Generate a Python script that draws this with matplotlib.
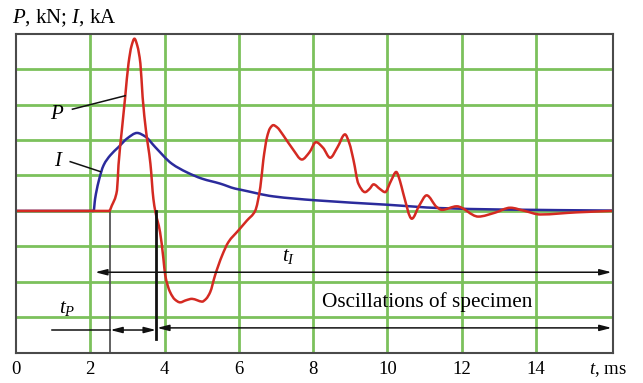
import matplotlib
matplotlib.use("Agg")
import matplotlib.pyplot as plt
from matplotlib.path import Path
from matplotlib.patches import PathPatch

plt.rcParams['font.family'] = ['Liberation Serif', 'DejaVu Serif']
plt.rcParams['mathtext.fontset'] = 'custom'
plt.rcParams['mathtext.rm'] = 'Liberation Serif'
plt.rcParams['mathtext.it'] = 'Liberation Serif:italic'

# ---- data (t in ms, values in grid units) ----
t_P = [0.0, 2.0, 2.51, 2.58, 2.72, 2.76, 2.85, 2.94, 3.03, 3.11, 3.19, 3.27, 3.35, 3.41,
       3.50, 3.62, 3.70, 3.75, 3.88, 3.97, 4.02, 4.15, 4.28, 4.42, 4.58, 4.74, 4.88,
       5.01, 5.12, 5.23, 5.36, 5.55, 5.72, 5.99, 6.22, 6.44, 6.58, 6.66, 6.76, 6.84,
       6.93, 7.03, 7.20, 7.45, 7.70, 7.90, 8.08, 8.27, 8.46, 8.66, 8.86, 8.98, 9.09,
       9.22, 9.40, 9.52, 9.63, 9.80, 9.94, 10.10, 10.24, 10.34, 10.43, 10.66, 10.86,
       11.06, 11.33, 11.47, 11.87, 12.45, 12.90, 13.31, 13.70, 14.12, 15.10, 16.07]
P = [0.0, 0.0, 0.0, 0.15, 0.58, 1.29, 2.27, 3.21, 4.16, 4.65, 4.86, 4.65, 4.16, 3.21,
     2.27, 1.33, 0.34, 0.0, -0.60, -1.35, -1.82, -2.29, -2.50, -2.58, -2.52, -2.48, -2.52,
     -2.56, -2.48, -2.29, -1.82, -1.26, -0.88, -0.55, -0.27, 0.0, 0.67, 1.43, 2.08, 2.33,
     2.42, 2.36, 2.13, 1.75, 1.45, 1.65, 1.94, 1.78, 1.50, 1.80, 2.16, 1.90, 1.43,
     0.77, 0.53, 0.62, 0.75, 0.62, 0.53, 0.85, 1.10, 0.85, 0.49, -0.22, 0.15,
     0.44, 0.11, 0.03, 0.13, -0.16, -0.05, 0.09, 0.0, -0.10, -0.04, 0.0]

t_I = [0.0, 2.09, 2.13, 2.22, 2.36, 2.54, 2.76, 3.00, 3.26, 3.48, 3.75, 4.20, 4.60,
       5.01, 5.50, 5.90, 6.04, 6.93, 8.06, 9.99, 11.42, 13.04, 16.07]
I = [0.0, 0.0, 0.34, 0.81, 1.29, 1.57, 1.80, 2.05, 2.20, 2.10, 1.80, 1.33, 1.09,
     0.91, 0.77, 0.63, 0.60, 0.41, 0.30, 0.175, 0.08, 0.04, 0.01]

x_ticks = [0, 2, 4, 6, 8, 10, 12, 14]
y_grid = [-3, -2, -1, 0, 1, 2, 3, 4]

# annotation times
tP_start, tP_end = 2.54, 3.77
tI_start, t_end = 2.13, 16.04


def smooth_path(xs, ys):
    """Bezier path through the data points (monotone cubic tangents)."""
    n = len(xs)
    d = [(ys[i + 1] - ys[i]) / (xs[i + 1] - xs[i]) for i in range(n - 1)]
    m = [0.0] * n
    m[0], m[-1] = d[0], d[-1]
    for i in range(1, n - 1):
        if d[i - 1] * d[i] <= 0:
            m[i] = 0.0
        else:
            h0 = xs[i] - xs[i - 1]
            h1 = xs[i + 1] - xs[i]
            w1, w2 = 2 * h1 + h0, h1 + 2 * h0
            m[i] = (w1 + w2) / (w1 / d[i - 1] + w2 / d[i])
    verts = [(xs[0], ys[0])]
    codes = [Path.MOVETO]
    for i in range(n - 1):
        h = xs[i + 1] - xs[i]
        verts += [(xs[i] + h / 3, ys[i] + m[i] * h / 3),
                  (xs[i + 1] - h / 3, ys[i + 1] - m[i + 1] * h / 3),
                  (xs[i + 1], ys[i + 1])]
        codes += [Path.CURVE4] * 3
    return Path(verts, codes)


fig = plt.figure(figsize=(6.43, 3.83), dpi=100)
ax = fig.add_axes([16/643, 1-352.7/383, (612.7-16)/643, (352.7-33.7)/383])
ax.set_xlim(0, 16.07)
ax.set_ylim(-4, 5)

green = '#7cc15c'
for xv in x_ticks[1:]:
    ax.axvline(xv, color=green, lw=2.0, zorder=1)
for yv in y_grid:
    ax.axhline(yv, color=green, lw=2.0, zorder=1)

ax.add_patch(PathPatch(smooth_path(t_I, I), facecolor='none', edgecolor='#2b2b9c',
                       lw=1.8, zorder=4, capstyle='round', joinstyle='round'))
ax.add_patch(PathPatch(smooth_path(t_P, P), facecolor='none', edgecolor='#d42a22',
                       lw=1.8, zorder=5, capstyle='round', joinstyle='round'))

# vertical marker lines
ax.plot([tP_start, tP_start], [0, -4], color='#555555', lw=1.3, zorder=3)
ax.plot([tP_end, tP_end], [0, -3.6], color='#111111', lw=2.0, zorder=6)

aprops = dict(arrowstyle='<|-|>,head_length=0.7,head_width=0.18', color='#111111',
              lw=1.1, shrinkA=0, shrinkB=0)
ax.annotate('', xy=(tI_start, -1.73), xytext=(t_end, -1.73), arrowprops=aprops, zorder=6)
ax.annotate('', xy=(tP_start, -3.36), xytext=(tP_end, -3.36), arrowprops=aprops, zorder=6)
ax.annotate('', xy=(tP_end + 0.03, -3.30), xytext=(t_end, -3.30), arrowprops=aprops, zorder=6)
ax.plot([0.97, tP_start], [-3.36, -3.36], color='#111111', lw=1.1, zorder=6)

# labels with leader lines
ax.plot([1.52, 2.94], [2.87, 3.25], color='#111111', lw=1.1, zorder=6)
ax.text(1.1, 2.71, r'$P$', fontsize=15, ha='center', va='center', zorder=7)
ax.plot([1.46, 2.27], [1.39, 1.11], color='#111111', lw=1.1, zorder=6)
ax.text(1.15, 1.39, r'$I$', fontsize=15, ha='center', va='center', zorder=7)

ax.text(7.33, -1.3, r'$t_I$', fontsize=15, ha='center', va='center', zorder=7)
ax.text(1.37, -2.75, r'$t_P$', fontsize=15, ha='center', va='center', zorder=7)
ax.text(11.08, -2.56, 'Oscillations of specimen', fontsize=15.3, ha='center',
        va='center', zorder=7)

ax.set_xticks(x_ticks)
ax.set_xticklabels([str(v) for v in x_ticks])
ax.set_yticks([])
ax.tick_params(axis='x', length=0, pad=6, labelsize=13.5)
for s in ax.spines.values():
    s.set_color('#4a4a4a')
    s.set_linewidth(1.5)
    s.set_zorder(8)

fig.text(608/643, 1-370/383, r'$t$, ms', fontsize=13.5, ha='center', va='center')
fig.text(12/643, 1-18.5/383, r'$P$, kN; $I$, kA', fontsize=15, ha='left', va='center')

fig.savefig('out.png', dpi=100)
